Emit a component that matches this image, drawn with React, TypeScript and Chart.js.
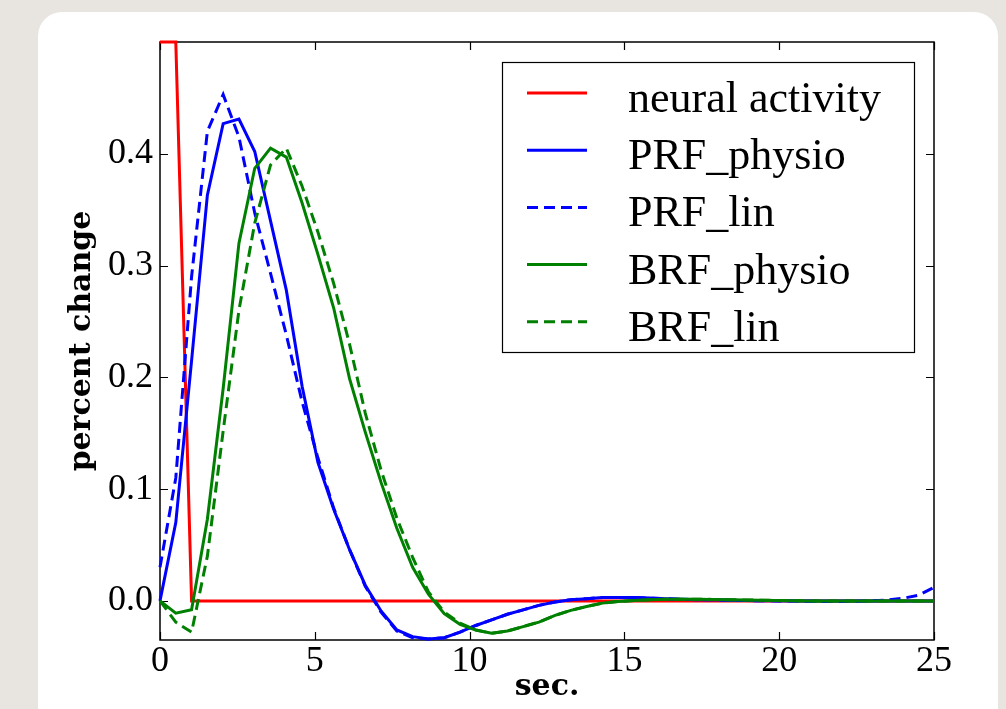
import React, { useEffect, useRef } from "react";
import { Chart, registerables } from "chart.js";

Chart.register(...registerables);

// sample times (seconds)
const timeSec = [
  0, 0.51, 1.02, 1.53, 2.04, 2.55, 3.06, 3.57, 4.08, 4.59,
  5.1, 5.61, 6.12, 6.63, 7.14, 7.65, 8.16, 8.67, 9.18, 9.69,
  10.2, 10.71, 11.22, 11.73, 12.24, 12.76, 13.27, 13.78, 14.29, 14.8,
  15.31, 15.82, 16.33, 16.84, 17.35, 17.86, 18.37, 18.88, 19.39, 19.9,
  20.41, 20.92, 21.43, 21.94, 22.45, 22.96, 23.47, 23.98, 24.49, 25,
];

const neuralActivity = [
  0.5, 0.5, 0, 0, 0, 0, 0, 0, 0, 0,
  0, 0, 0, 0, 0, 0, 0, 0, 0, 0,
  0, 0, 0, 0, 0, 0, 0, 0, 0, 0,
  0, 0, 0, 0, 0, 0, 0, 0, 0, 0,
  0, 0, 0, 0, 0, 0, 0, 0, 0, 0,
];

const prfPhysio = [
  0, 0.07, 0.215, 0.363, 0.427, 0.431, 0.402, 0.34, 0.278, 0.192,
  0.124, 0.082, 0.046, 0.014, -0.009, -0.026, -0.032, -0.034, -0.033, -0.028,
  -0.022, -0.017, -0.012, -0.008, -0.004, -0.001, 0.001, 0.002, 0.003, 0.003,
  0.003, 0.0025, 0.002, 0.0015, 0.001, 0.001, 0.0005, 0.0003, 0.0002, 0.0001,
  0, 0, 0, 0, 0, 0, 0, 0, 0, 0,
];

const prfLin = [
  0.03, 0.11, 0.29, 0.42, 0.453, 0.415, 0.347, 0.293, 0.238, 0.178,
  0.128, 0.083, 0.046, 0.013, -0.01, -0.027, -0.033, -0.034, -0.033, -0.028,
  -0.022, -0.017, -0.012, -0.008, -0.004, -0.001, 0.001, 0.002, 0.003, 0.003,
  0.003, 0.0025, 0.002, 0.0015, 0.001, 0.001, 0.0005, 0.0003, 0.0001, 0,
  0, -0.0003, -0.0005, -0.0005, -0.0004, 0, 0.0008, 0.0022, 0.005, 0.012,
];

const brfPhysio = [
  0, -0.011, -0.008, 0.073, 0.19, 0.32, 0.387, 0.405, 0.397, 0.356,
  0.31, 0.262, 0.199, 0.151, 0.106, 0.065, 0.03, 0.006, -0.0115, -0.021,
  -0.026, -0.029, -0.027, -0.023, -0.019, -0.013, -0.0085, -0.005, -0.002, -0.0005,
  0.0003, 0.001, 0.0015, 0.0015, 0.0015, 0.0013, 0.001, 0.0008, 0.0006, 0.0004,
  0.0002, 0, 0, 0, 0, 0, 0, 0, 0, 0,
];

const brfLin = [
  0, -0.019, -0.028, 0.04, 0.152, 0.26, 0.338, 0.39, 0.405, 0.371,
  0.33, 0.284, 0.23, 0.168, 0.117, 0.074, 0.039, 0.008, -0.01, -0.02,
  -0.026, -0.029, -0.027, -0.023, -0.019, -0.013, -0.0085, -0.005, -0.002, -0.0005,
  0.0003, 0.001, 0.0015, 0.0015, 0.0015, 0.0013, 0.001, 0.0008, 0.0006, 0.0004,
  0.0002, 0, 0, 0, 0, 0, 0, 0, 0, 0,
];

const xTickValues = [0, 5, 10, 15, 20, 25];
const yTickValues = [0, 0.1, 0.2, 0.3, 0.4];
const seriesLabels = ["neural activity", "PRF_physio", "PRF_lin", "BRF_physio", "BRF_lin"];
const xTitle = "sec.";
const yTitle = "percent change";

const RED = "#ff0000";
const BLUE = "#0000ff";
const GREEN = "#008000";
const DASH = [11, 6];

export default function App() {
  const canvasRef = useRef<HTMLCanvasElement | null>(null);

  useEffect(() => {
    const canvas = canvasRef.current;
    if (!canvas) return;
    const toPoints = (vals: number[]) => timeSec.map((t, i) => ({ x: t, y: vals[i] }));

    const styles = [
      { color: RED, dash: [] as number[] },
      { color: BLUE, dash: [] as number[] },
      { color: BLUE, dash: DASH },
      { color: GREEN, dash: [] as number[] },
      { color: GREEN, dash: DASH },
    ];
    const seriesData = [neuralActivity, prfPhysio, prfLin, brfPhysio, brfLin];

    const framePlugin = {
      id: "frameTicks",
      beforeDatasetsDraw(chart: any) {
        const { ctx, chartArea, scales } = chart;
        const { left, right, top, bottom } = chartArea;
        ctx.save();
        ctx.strokeStyle = "#000";
        ctx.lineWidth = 1.5;
        ctx.strokeRect(left, top, right - left, bottom - top);
        ctx.lineWidth = 1.2;
        ctx.beginPath();
        const tl = 8;
        xTickValues.forEach((v) => {
          const px = Math.round(scales.x.getPixelForValue(v)) + 0.5;
          ctx.moveTo(px, bottom);
          ctx.lineTo(px, bottom - tl);
          ctx.moveTo(px, top);
          ctx.lineTo(px, top + tl);
        });
        yTickValues.forEach((v) => {
          const py = Math.round(scales.y.getPixelForValue(v)) + 0.5;
          ctx.moveTo(left, py);
          ctx.lineTo(left + tl, py);
          ctx.moveTo(right, py);
          ctx.lineTo(right - tl, py);
        });
        ctx.stroke();
        ctx.restore();
      },
    };

    const legendPlugin = {
      id: "boxLegend",
      afterDatasetsDraw(chart: any) {
        const { ctx, chartArea } = chart;
        const boxW = 412;
        const boxH = 290;
        const bx = chartArea.right - 20 - boxW;
        const by = chartArea.top + 20;
        ctx.save();
        ctx.fillStyle = "#fff";
        ctx.fillRect(bx, by, boxW, boxH);
        ctx.strokeStyle = "#000";
        ctx.lineWidth = 1.2;
        ctx.strokeRect(bx + 0.5, by + 0.5, boxW, boxH);
        ctx.font = "44px 'Liberation Serif', serif";
        ctx.textAlign = "left";
        ctx.textBaseline = "alphabetic";
        seriesLabels.forEach((label, i) => {
          const ry = by + 31 + i * 57.2;
          ctx.strokeStyle = styles[i].color;
          ctx.lineWidth = 3;
          ctx.setLineDash(styles[i].dash);
          ctx.beginPath();
          ctx.moveTo(bx + 25, ry);
          ctx.lineTo(bx + 85, ry);
          ctx.stroke();
          ctx.setLineDash([]);
          ctx.fillStyle = "#000";
          ctx.fillText(label, bx + 126, ry + 19);
        });
        ctx.restore();
      },
    };

    const chart = new Chart(canvas, {
      type: "line",
      data: {
        datasets: seriesLabels.map((label, i) => ({
          label,
          data: toPoints(seriesData[i]),
          borderColor: styles[i].color,
          backgroundColor: styles[i].color,
          borderWidth: 3,
          borderDash: styles[i].dash,
          pointRadius: 0,
          tension: 0,
          fill: false,
          clip: 3,
          order: seriesLabels.length - i,
        })),
      },
      options: {
        responsive: false,
        animation: false,
        devicePixelRatio: 1,
        layout: { padding: { left: 0, top: 42, right: 72, bottom: 0 } },
        plugins: {
          legend: { display: false },
          tooltip: { enabled: false },
        },
        scales: {
          x: {
            type: "linear",
            min: 0,
            max: 25,
            grid: { display: false, drawTicks: false },
            border: { display: false },
            afterBuildTicks: (scale: any) => {
              scale.ticks = xTickValues.map((v) => ({ value: v }));
            },
            afterFit: (scale: any) => {
              scale.height = 69;
            },
            ticks: {
              color: "#000",
              padding: 0,
              maxRotation: 0,
              font: { family: "'Liberation Serif', serif", size: 36, lineHeight: 1.2 },
              callback: (v: any) => String(v),
            },
            title: {
              display: true,
              text: xTitle,
              color: "#000",
              font: { family: "'DejaVu Serif', serif", size: 30, weight: "bold", lineHeight: 1.2 },
              padding: { top: 0, bottom: 4 },
            },
          },
          y: {
            type: "linear",
            min: -0.035,
            max: 0.5,
            grid: { display: false, drawTicks: false },
            border: { display: false },
            afterBuildTicks: (scale: any) => {
              scale.ticks = yTickValues.map((v) => ({ value: v }));
            },
            afterFit: (scale: any) => {
              scale.width = 160;
            },
            ticks: {
              color: "#000",
              padding: 7,
              font: { family: "'Liberation Serif', serif", size: 36, lineHeight: 1.2 },
              callback: (v: any) => Number(v).toFixed(1),
            },
            title: {
              display: true,
              text: yTitle,
              color: "#000",
              font: { family: "'DejaVu Serif', serif", size: 30, weight: "bold", lineHeight: 1.2 },
              padding: { top: 64, bottom: 0 },
            },
          },
        },
      },
      plugins: [framePlugin, legendPlugin],
    });

    return () => chart.destroy();
  }, []);

  return (
    <div
      style={{
        position: "fixed",
        left: 0,
        top: 0,
        width: 1006,
        height: 709,
        background: "#e8e4e0",
        overflow: "hidden",
      }}
    >
      <div
        style={{
          position: "absolute",
          left: 38,
          top: 12,
          width: 960,
          height: 760,
          borderRadius: 24,
          background: "#ffffff",
        }}
      />
      <canvas
        ref={canvasRef}
        width={1006}
        height={709}
        style={{ position: "absolute", left: 0, top: 0, width: 1006, height: 709 }}
      />
    </div>
  );
}
